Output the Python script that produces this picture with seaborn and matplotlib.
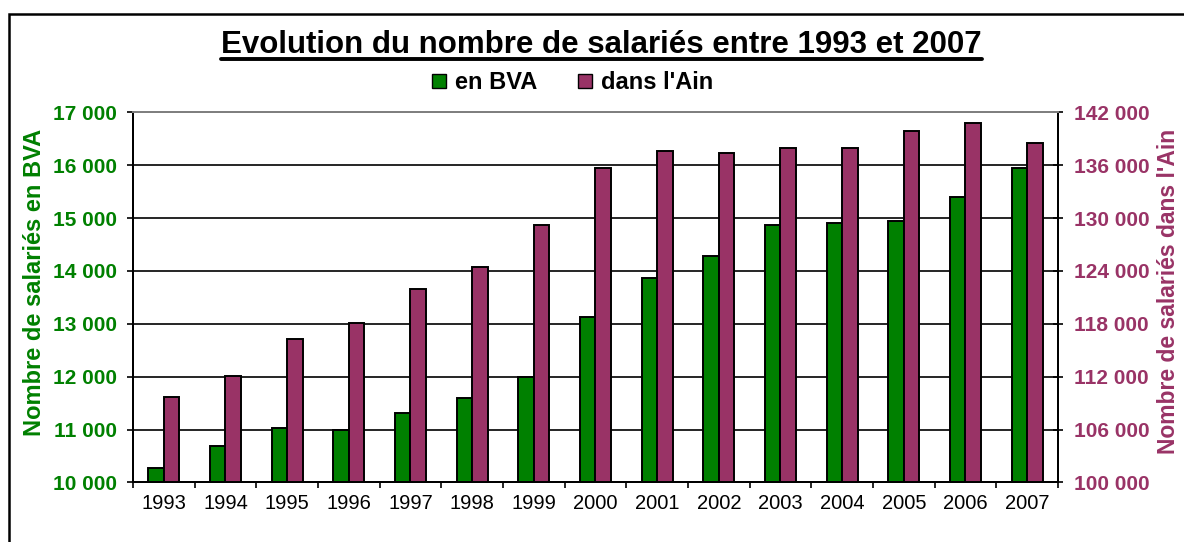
import numpy as np
import pandas as pd
import matplotlib
matplotlib.use("Agg")
import matplotlib.pyplot as plt
import seaborn as sns
from matplotlib.lines import Line2D
from matplotlib.patches import Rectangle
from matplotlib.ticker import FuncFormatter

# Données
annees = ["1993", "1994", "1995", "1996", "1997", "1998", "1999", "2000",
          "2001", "2002", "2003", "2004", "2005", "2006", "2007"]
salaries_bva = [10280, 10690, 11030, 10990, 11320, 11590, 11990, 13130,
                13870, 14280, 14870, 14910, 14940, 15390, 15940]
salaries_ain = [109700, 112100, 116300, 118100, 121900, 124400, 129200, 135700,
                137600, 137400, 137900, 137900, 139900, 140750, 138500]
series = ["en BVA", "dans l'Ain"]
ticks_bva = [10000, 11000, 12000, 13000, 14000, 15000, 16000, 17000]
ticks_ain = [100000, 106000, 112000, 118000, 124000, 130000, 136000, 142000]

vert = "#008000"
violet = "#993366"
couleurs = {series[0]: vert, series[1]: violet}

df = pd.DataFrame({
    "annee": annees * 2,
    "serie": [series[0]] * len(annees) + [series[1]] * len(annees),
    "valeur": salaries_bva + salaries_ain,
})

sns.set_style("white")
plt.rcParams["font.family"] = ["Liberation Sans", "DejaVu Sans"]
plt.rcParams["text.color"] = "black"
plt.rcParams["xtick.color"] = "black"
plt.rcParams["ytick.color"] = "black"

fig = plt.figure(figsize=(11.84, 5.42), dpi=100)
ax = fig.add_axes([0.11233, 0.10978, 0.78125, 0.68303])
ax2 = ax.twinx()

# barres : BVA sur l'axe gauche, Ain sur l'axe droit
sns.barplot(data=df[df["serie"] == series[0]], x="annee", y="valeur", hue="serie",
            hue_order=series, order=annees, palette=couleurs, width=0.5,
            dodge=True, saturation=1, errorbar=None, edgecolor="black",
            linewidth=1.4, legend=False, ax=ax)
sns.barplot(data=df[df["serie"] == series[1]], x="annee", y="valeur", hue="serie",
            hue_order=series, order=annees, palette=couleurs, width=0.5,
            dodge=True, saturation=1, errorbar=None, edgecolor="black",
            linewidth=1.4, legend=False, ax=ax2)

fmt = FuncFormatter(lambda v, p: f"{v:,.0f}".replace(",", " "))

ax.set_ylim(ticks_bva[0], ticks_bva[-1])
ax.set_yticks(ticks_bva)
ax.yaxis.set_major_formatter(fmt)
ax2.set_ylim(ticks_ain[0], ticks_ain[-1])
ax2.set_yticks(ticks_ain)
ax2.yaxis.set_major_formatter(fmt)

ax.set_xlim(-0.5, len(annees) - 0.5)
ax.set_xticks(np.arange(-0.5, len(annees), 1), minor=True)

# grille et cadres
ax.set_axisbelow(True)
ax.yaxis.grid(True, color="black", linewidth=1.2)
ax.xaxis.grid(False)
for a in (ax, ax2):
    for s in a.spines.values():
        s.set_linewidth(1.4)
        s.set_color("black")
    a.spines["top"].set_color("#808080")

ax.tick_params(axis="y", which="major", direction="out", length=4.3, width=1.2,
               pad=7, labelsize=15, labelcolor=vert, left=True)
ax.tick_params(axis="x", which="major", length=0, pad=8, labelsize=14.5,
               labelcolor="black")
ax.tick_params(axis="x", which="minor", direction="out", length=4.5, width=1.2,
               bottom=True)
ax2.tick_params(axis="y", direction="inout", length=6.5, width=1.2, pad=8,
                labelsize=15, labelcolor=violet, right=True)
for lab in ax.get_yticklabels() + ax2.get_yticklabels():
    lab.set_fontweight("bold")

ax.set_xlabel("")
ax2.set_xlabel("")
ax.set_ylabel("Nombre de salariés en BVA", color=vert, fontsize=17,
              fontweight="bold")
ax.yaxis.set_label_coords(-0.094, 0.5416)
ax2.set_ylabel("Nombre de salariés dans l'Ain", color=violet, fontsize=16.5,
               fontweight="bold")
ax2.yaxis.set_label_coords(1.107, 0.516)

# titre souligné
titre = fig.text(0.508, 0.9017, "Evolution du nombre de salariés entre 1993 et 2007",
                 ha="center", va="baseline", fontsize=22.5, fontweight="bold",
                 color="black")
fig.canvas.draw()
bb = titre.get_window_extent().transformed(fig.transFigure.inverted())
fig.add_artist(Line2D([bb.x0, bb.x1], [0.892, 0.892], color="black",
                      linewidth=2.8, transform=fig.transFigure))

# légende
handles = [Line2D([], [], linestyle="none", marker="s", markersize=10,
                  markerfacecolor=couleurs[s], markeredgecolor="black",
                  markeredgewidth=1.0) for s in series]
leg = fig.legend(handles, series, loc="center", bbox_to_anchor=(0.4827, 0.847),
                 ncol=2, frameon=False, handlelength=0.8, handletextpad=0.3,
                 columnspacing=1.6, borderpad=0.1,
                 prop={"size": 17, "weight": "bold"})
for t in leg.get_texts():
    t.set_color("black")

# cadre extérieur du graphique
fig.add_artist(Rectangle((0.00735, -0.2), 1.2, 1.1745, transform=fig.transFigure,
                         fill=False, edgecolor="black", linewidth=1.8))

fig.savefig("out.png", dpi=100)
